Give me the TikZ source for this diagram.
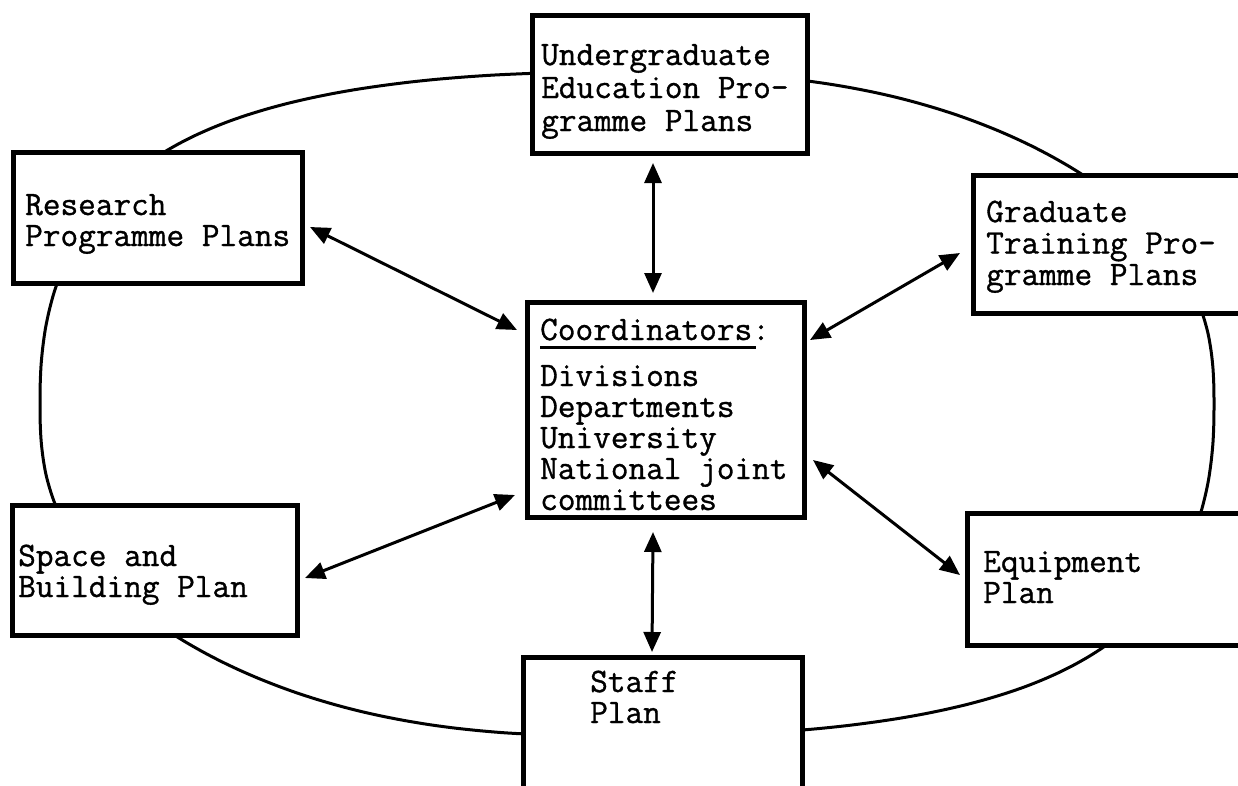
\documentclass[tikz,border=0pt]{standalone}
\usepackage{fontspec}
\setmonofont{Latin Modern Mono}[FakeBold=1]
\usetikzlibrary{arrows.meta,calc}
% left-aligned block of lines whose baseline is the first line
\newcommand\tlines[1]{\begin{tabular}[t]{@{}l@{}}#1\end{tabular}}
\begin{document}
\begin{tikzpicture}[x=1pt,y=-1pt,
  plan/.style={draw, line width=5pt, fill=white, rectangle, outer sep=0pt, inner sep=0pt},
  plantext/.style={anchor=base west, inner sep=0pt, align=left,
    font=\ttfamily\fontsize{34.3}{#1}\selectfont},
  plantext/.default=31.5,
  link/.style={line width=3pt,
    {Triangle[length=20pt,width=17pt]}-{Triangle[length=20pt,width=17pt]}},
  ring/.style={line width=3pt}]
\useasboundingbox (0,0) rectangle (1238,785);
\clip (0,0) rectangle (1238,785);

% the planning cycle: a squarish oval, rounder on one diagonal
\draw[ring] plot[smooth cycle, domain=1.25:358.75, samples=144, variable=\t]
  ({627+587*sign(cos(\t))*pow(abs(cos(\t)),0.815-0.075*sin(2*\t))},
   {404+332*sign(sin(\t))*pow(abs(sin(\t)),0.815-0.075*sin(2*\t))});

% plan boxes
\node[plan, minimum width=275pt, minimum height=138pt] (ug)    at (669.5,84)   {};
\node[plan, minimum width=289pt, minimum height=131pt] (res)   at (157.5,217.5) {};
\node[plan, minimum width=287pt, minimum height=138pt] (grad)  at (1116.5,244) {};
\node[plan, minimum width=277pt, minimum height=215pt] (coord) at (665.5,409.5) {};
\node[plan, minimum width=285pt, minimum height=130pt] (space) at (154.5,570)  {};
\node[plan, minimum width=293pt, minimum height=132pt] (equip) at (1113.5,579) {};
\node[plan, minimum width=279pt, minimum height=163pt] (staff) at (662.5,738.5) {};

% box texts
\node[plantext=33] (ugt) at (541,65) {\tlines{Undergraduate\\Education Pro-\\gramme Plans}};
\node[plantext=31] (rest) at (25,215) {\tlines{Research\\Programme Plans}};
\node[plantext=31.5] (gradt) at (986,222) {\tlines{Graduate\\Training Pro-\\gramme Plans}};
\node[plantext=31] (coordt) at (540,340)
  {\tlines{\rlap{\rule[-8.5pt]{216pt}{3pt}}Coordinators:\\[15pt]
   Divisions\\Departments\\University\\National joint\\committees}};
\node[plantext=31] (spacet) at (18,566) {\tlines{Space and\\Building Plan}};
\node[plantext=31] (equipt) at (983,572) {\tlines{Equipment\\Plan}};
\node[plantext=31] (stafft) at (590,692) {\tlines{Staff\\Plan}};

% two-way links with the coordinators
\draw[link] ($(ug.south)+(-16.5,10)$) -- ($(coord.north)+(-12.5,-9)$);
\draw[link] ($(coord.south)+(-12.5,15)$) -- ($(staff.north)+(-10.5,-5)$);
\draw[link] ($(res.east)+(8,9.5)$) -- ($(coord.west)+(-10,-79.5)$);
\draw[link] ($(grad.west)+(-13,9)$) -- ($(coord.east)+(6,-69.5)$);
\draw[link] ($(space.east)+(8,8)$) -- ($(coord.west)+(-12,85.5)$);
\draw[link] ($(equip.west)+(-7,-4)$) -- ($(coord.east)+(9,50.5)$);
\end{tikzpicture}
\end{document}
